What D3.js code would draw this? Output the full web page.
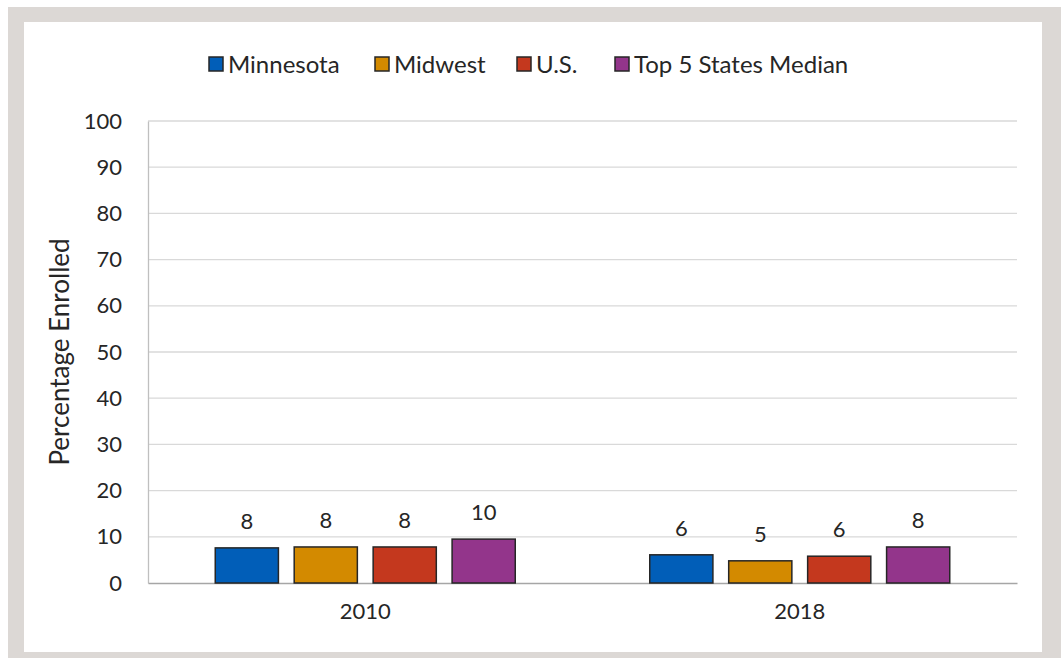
<!doctype html>
<html lang="en">
<head>
<meta charset="utf-8">
<title>Percentage Enrolled</title>
<script src="https://cdn.jsdelivr.net/npm/d3@7"></script>
<style>
  body { margin: 0; background: #fff; }
  text { font-family: Lato, "Open Sans", sans-serif; fill: #262626; }
</style>
</head>
<body>
<script>

// Data
var years = ["2010", "2018"];
var series = ["Minnesota", "Midwest", "U.S.", "Top 5 States Median"];
var colors = ["#015eb8", "#d38a00", "#c4381e", "#93358b"];
var minnesota = [7.6, 6.1];
var midwest = [7.8, 4.8];
var us = [7.8, 5.8];
var top5 = [9.5, 7.8];
var labels = [["8", "8", "8", "10"], ["6", "5", "6", "8"]];
var yTicks = [0, 10, 20, 30, 40, 50, 60, 70, 80, 90, 100];

var values = [minnesota, midwest, us, top5];

// Graphics
var W = 1061, H = 658;
var plot = {left: 148, right: 1017, top: 121, bottom: 583};

var svg = d3.select("body").append("svg")
  .attr("width", W)
  .attr("height", H);

// frame
svg.append("rect").attr("x", 8).attr("y", 7).attr("width", W - 8).attr("height", H - 7)
  .attr("fill", "#dcd8d5");
svg.append("rect").attr("x", 24).attr("y", 22).attr("width", 1018).attr("height", 630)
  .attr("fill", "#fff");

var x0 = d3.scaleBand().domain(years).range([plot.left, plot.right]).paddingInner(0).paddingOuter(0);
var x1 = d3.scaleBand().domain(series).range([0, 300]).paddingInner(0.2).paddingOuter(0);
var y = d3.scaleLinear().domain([0, 100]).range([plot.bottom, plot.top]);

// gridlines
svg.append("g").selectAll("line")
  .data(yTicks.filter(function(d) { return d > 0; }))
  .enter().append("line")
  .attr("x1", plot.left).attr("x2", plot.right)
  .attr("y1", function(d) { return y(d); }).attr("y2", function(d) { return y(d); })
  .attr("stroke", "#d9d9d9").attr("stroke-width", 1.3);

// y axis
var yAxis = d3.axisLeft(y).tickValues(yTicks).tickSize(0).tickPadding(26);
var gy = svg.append("g").attr("transform", "translate(" + plot.left + ",0)").call(yAxis);
gy.select(".domain").attr("stroke", "#bfbfbf").attr("stroke-width", 1.3);
gy.selectAll("text").style("font-size", "22px").attr("fill", "#262626");

// x axis
var xAxis = d3.axisBottom(x0).tickSize(0).tickPadding(20);
var gx = svg.append("g").attr("transform", "translate(0," + plot.bottom + ")").call(xAxis);
gx.select(".domain").attr("stroke", "#a6a6a6").attr("stroke-width", 1.5);
gx.selectAll("text").style("font-size", "22px").attr("fill", "#262626");

// bars
var groups = svg.append("g").selectAll("g")
  .data(years)
  .enter().append("g")
  .attr("transform", function(d) { return "translate(" + (x0(d) + x0.bandwidth() / 2 - 150) + ",0)"; });

groups.selectAll("rect")
  .data(function(d, i) { return series.map(function(s, j) { return {s: s, j: j, v: values[j][i]}; }); })
  .enter().append("rect")
  .attr("x", function(d) { return x1(d.s); })
  .attr("width", x1.bandwidth())
  .attr("y", function(d) { return y(d.v); })
  .attr("height", function(d) { return y(0) - y(d.v); })
  .attr("fill", function(d) { return colors[d.j]; })
  .attr("stroke", "#262626")
  .attr("stroke-width", 1.5);

groups.selectAll("text.lbl")
  .data(function(d, i) { return series.map(function(s, j) { return {s: s, j: j, v: values[j][i], t: labels[i][j]}; }); })
  .enter().append("text")
  .attr("class", "lbl")
  .attr("x", function(d) { return x1(d.s) + x1.bandwidth() / 2; })
  .attr("y", function(d) { return y(d.v) - 19; })
  .attr("text-anchor", "middle")
  .style("font-size", "22px")
  .text(function(d) { return d.t; });

// y title
svg.append("text")
  .attr("transform", "translate(69," + ((plot.top + plot.bottom) / 2) + ") rotate(-90)")
  .attr("text-anchor", "middle")
  .style("font-size", "26px")
  .text("Percentage Enrolled");

// legend
var legendX = [209, 375, 517, 615];
var legend = svg.append("g").selectAll("g")
  .data(series)
  .enter().append("g")
  .attr("transform", function(d, i) { return "translate(" + legendX[i] + ",57)"; });

legend.append("rect")
  .attr("width", 14).attr("height", 14)
  .attr("fill", function(d, i) { return colors[i]; })
  .attr("stroke", "#262626").attr("stroke-width", 1.5);

legend.append("text")
  .attr("x", 19).attr("y", 16)
  .style("font-size", "24px")
  .text(function(d) { return d; });

</script>
</body>
</html>
